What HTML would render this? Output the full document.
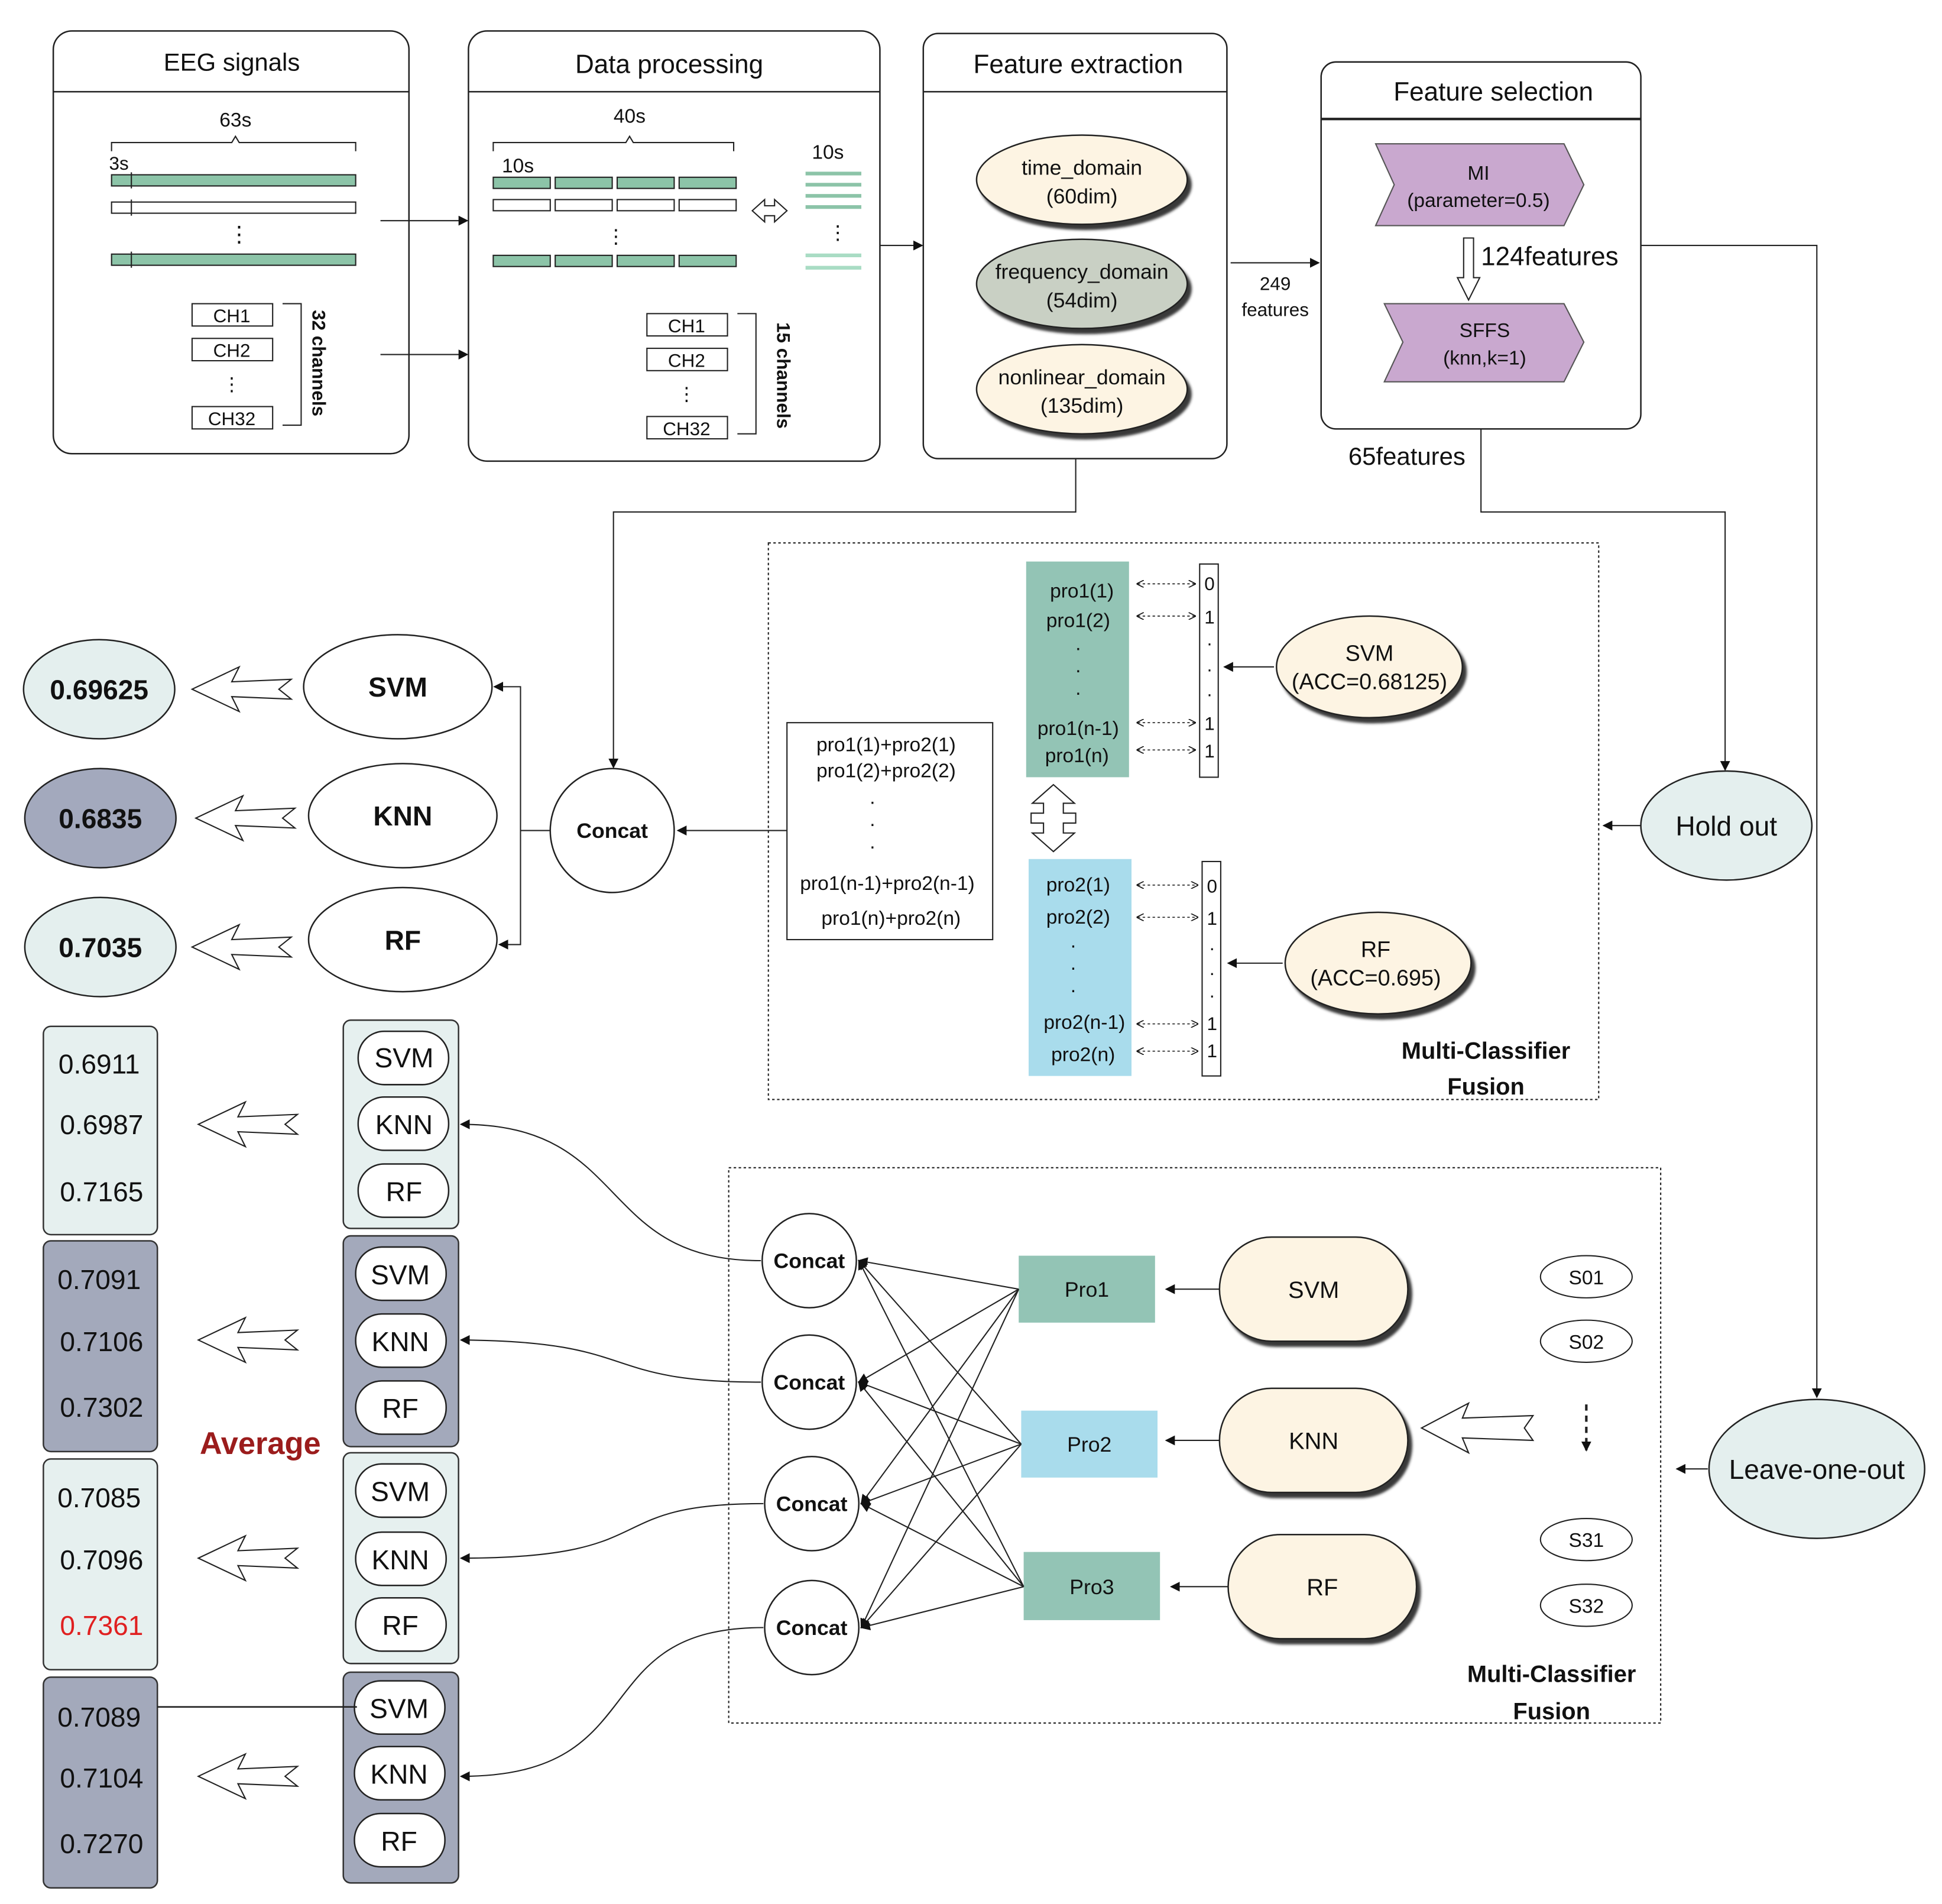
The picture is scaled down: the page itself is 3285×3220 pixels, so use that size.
<!DOCTYPE html>
<html><head><meta charset="utf-8"><style>
html,body{margin:0;padding:0;background:#fff;}
svg{display:block;}
text{font-family:"Liberation Sans",Arial,sans-serif;fill:#111;}
</style></head><body>
<svg width="3285" height="3220" viewBox="0 0 1567 1536" preserveAspectRatio="none" xmlns="http://www.w3.org/2000/svg">
<defs>
<marker id="ar" markerWidth="8" markerHeight="8" refX="7" refY="4" orient="auto" markerUnits="userSpaceOnUse"><path d="M0,0 L8,4 L0,8 z" fill="#111"/></marker>
<marker id="ars" markerWidth="6" markerHeight="6" refX="5" refY="3" orient="auto-start-reverse" markerUnits="userSpaceOnUse"><path d="M0,0 L6,3 L0,6" fill="none" stroke="#111" stroke-width="0.8"/></marker>
<filter id="sh" x="-10%" y="-10%" width="130%" height="130%"><feDropShadow dx="3" dy="4" stdDeviation="1" flood-color="#222" flood-opacity="0.9"/></filter>
<g id="hl"><polygon points="0,0 38,-18 32,-6 80,-8 70,0 80,8 32,6 38,18" fill="#fff" stroke="#222" stroke-width="1"/></g>
</defs>
<g stroke="#222" fill="none" stroke-width="1.2">
<rect x="43" y="25" width="287" height="341" rx="15" fill="#fff"/>
<line x1="43" y1="74" x2="330" y2="74"/>
<rect x="378" y="25" width="332" height="347" rx="15" fill="#fff"/>
<line x1="378" y1="74" x2="710" y2="74"/>
<rect x="745" y="27" width="245" height="343" rx="12" fill="#fff"/>
<line x1="745" y1="74" x2="990" y2="74"/>
<rect x="1066" y="50" width="258" height="296" rx="12" fill="#fff"/>
<line x1="1066" y1="96" x2="1324" y2="96" stroke-width="2"/>
</g>
<text x="187" y="57" font-size="20" text-anchor="middle">EEG signals</text>
<text x="540" y="59" font-size="21" text-anchor="middle">Data processing</text>
<text x="870" y="59" font-size="21" text-anchor="middle">Feature extraction</text>
<text x="1205" y="81" font-size="21" text-anchor="middle">Feature selection</text>
<g stroke="#222" stroke-width="1" fill="none">
<path d="M90,122 V115 H187 L190,110 L193,115 H287 V122"/>
<rect x="90" y="141" width="197" height="9" fill="#8cc4a8"/>
<rect x="90" y="163" width="197" height="9" fill="#fff"/>
<rect x="90" y="205" width="197" height="9" fill="#8cc4a8"/>
<line x1="106" y1="139" x2="106" y2="152"/><line x1="106" y1="161" x2="106" y2="174"/><line x1="106" y1="203" x2="106" y2="216"/>
<rect x="155" y="245" width="65" height="18"/><rect x="155" y="273" width="65" height="18"/><rect x="155" y="328" width="65" height="18"/>
<path d="M228,245 H243 V343 H228"/>
<line x1="307" y1="178" x2="377" y2="178" marker-end="url(#ar)"/>
<line x1="307" y1="286" x2="377" y2="286" marker-end="url(#ar)"/>
</g>
<text x="190" y="102" font-size="16" text-anchor="middle">63s</text>
<text x="88" y="137" font-size="15">3s</text>
<text x="193" y="195" font-size="18" text-anchor="middle">⋮</text>
<text x="187" y="260" font-size="15" text-anchor="middle">CH1</text>
<text x="187" y="288" font-size="15" text-anchor="middle">CH2</text>
<text x="187" y="315" font-size="15" text-anchor="middle">⋮</text>
<text x="187" y="343" font-size="15" text-anchor="middle">CH32</text>
<text transform="translate(252,250) rotate(90)" font-size="15" font-weight="bold">32 channels</text>
<g stroke="#222" stroke-width="1" fill="none">
<path d="M398,122 V115 H505 L508,110 L511,115 H592 V122"/>
<rect x="398" y="143" width="46" height="9" fill="#8cc4a8"/><rect x="448" y="143" width="46" height="9" fill="#8cc4a8"/><rect x="498" y="143" width="46" height="9" fill="#8cc4a8"/><rect x="548" y="143" width="46" height="9" fill="#8cc4a8"/>
<rect x="398" y="161" width="46" height="9"/><rect x="448" y="161" width="46" height="9"/><rect x="498" y="161" width="46" height="9"/><rect x="548" y="161" width="46" height="9"/>
<rect x="398" y="206" width="46" height="9" fill="#8cc4a8"/><rect x="448" y="206" width="46" height="9" fill="#8cc4a8"/><rect x="498" y="206" width="46" height="9" fill="#8cc4a8"/><rect x="548" y="206" width="46" height="9" fill="#8cc4a8"/>
<polygon points="607,170 617,161 617,166 625,166 625,161 635,170 625,179 625,174 617,174 617,179" fill="#fff"/>
<rect x="522" y="253" width="65" height="18"/><rect x="522" y="281" width="65" height="18"/><rect x="522" y="336" width="65" height="18"/>
<path d="M595,253 H610 V350 H595"/>
<line x1="710" y1="198" x2="744" y2="198" marker-end="url(#ar)"/>
</g>
<g stroke="#8cc4a8" stroke-width="3"><line x1="650" y1="140" x2="695" y2="140"/><line x1="650" y1="149" x2="695" y2="149"/><line x1="650" y1="158" x2="695" y2="158"/><line x1="650" y1="167" x2="695" y2="167"/></g>
<g stroke="#a9dcc4" stroke-width="3"><line x1="650" y1="206" x2="695" y2="206"/><line x1="650" y1="216" x2="695" y2="216"/></g>
<text x="508" y="99" font-size="16" text-anchor="middle">40s</text>
<text x="405" y="139" font-size="16">10s</text>
<text x="497" y="196" font-size="16" text-anchor="middle">⋮</text>
<text x="668" y="128" font-size="16" text-anchor="middle">10s</text>
<text x="676" y="193" font-size="16" text-anchor="middle">⋮</text>
<text x="554" y="268" font-size="15" text-anchor="middle">CH1</text>
<text x="554" y="296" font-size="15" text-anchor="middle">CH2</text>
<text x="554" y="323" font-size="15" text-anchor="middle">⋮</text>
<text x="554" y="351" font-size="15" text-anchor="middle">CH32</text>
<text transform="translate(627,260) rotate(90)" font-size="15" font-weight="bold">15 channels</text>
<g stroke="#222" stroke-width="1.2" filter="url(#sh)">
<ellipse cx="873" cy="145" rx="85" ry="36" fill="#fdf4e3"/>
<ellipse cx="873" cy="229" rx="85" ry="36" fill="#c9d0c4"/>
<ellipse cx="873" cy="314" rx="85" ry="36" fill="#fdf4e3"/>
</g>
<g font-size="17" text-anchor="middle">
<text x="873" y="141">time_domain</text><text x="873" y="164">(60dim)</text>
<text x="873" y="225">frequency_domain</text><text x="873" y="248">(54dim)</text>
<text x="873" y="310">nonlinear_domain</text><text x="873" y="333">(135dim)</text>
</g>
<line x1="993" y1="212" x2="1064" y2="212" stroke="#222" marker-end="url(#ar)"/>
<text x="1029" y="234" font-size="15" text-anchor="middle">249</text>
<text x="1029" y="255" font-size="15" text-anchor="middle">features</text>
<polygon points="1110,116 1262,116 1278,149 1262,182 1110,182 1125,149" fill="#c9a8cf" stroke="#555"/>
<polygon points="1117,245 1262,245 1278,276 1262,308 1117,308 1132,276" fill="#c9a8cf" stroke="#555"/>
<text x="1193" y="145" font-size="16" text-anchor="middle">MI</text>
<text x="1193" y="167" font-size="16" text-anchor="middle">(parameter=0.5)</text>
<text x="1198" y="272" font-size="16" text-anchor="middle">SFFS</text>
<text x="1198" y="294" font-size="16" text-anchor="middle">(knn,k=1)</text>
<polygon points="1181,192 1189,192 1189,224 1194,224 1185,242 1176,224 1181,224" fill="#fff" stroke="#222"/>
<text x="1195" y="214" font-size="21">124features</text>
<text x="1088" y="375" font-size="20">65features</text>
<g stroke="#222" stroke-width="1" fill="none">
<polyline points="1324,198 1466,198 1466,1127" marker-end="url(#ar)"/>
<polyline points="1195,346 1195,413 1392,413 1392,621" marker-end="url(#ar)"/>
<polyline points="868,370 868,413 495,413 495,619" marker-end="url(#ar)"/>
</g>
<g stroke="#222" stroke-width="1.2">
<ellipse cx="80" cy="556" rx="61" ry="40" fill="#e4efee"/>
<ellipse cx="81" cy="660" rx="61" ry="40" fill="#a3a9bd"/>
<ellipse cx="81" cy="764" rx="61" ry="40" fill="#e4efee"/>
<ellipse cx="321" cy="554" rx="76" ry="42" fill="#fff"/>
<ellipse cx="325" cy="658" rx="76" ry="42" fill="#fff"/>
<ellipse cx="325" cy="758" rx="76" ry="42" fill="#fff"/>
<circle cx="494" cy="670" r="50" fill="#fff"/>
</g>
<g font-size="22" font-weight="bold" text-anchor="middle">
<text x="80" y="564">0.69625</text><text x="81" y="668">0.6835</text><text x="81" y="772">0.7035</text>
<text x="321" y="562">SVM</text><text x="325" y="666">KNN</text><text x="325" y="766">RF</text>
</g>
<text x="494" y="676" font-size="17" font-weight="bold" text-anchor="middle">Concat</text>
<use href="#hl" x="155" y="556"/><use href="#hl" x="158" y="660"/><use href="#hl" x="155" y="764"/>
<g stroke="#222" stroke-width="1" fill="none">
<line x1="444" y1="670" x2="420" y2="670"/>
<polyline points="420,670 420,554 399,554" marker-end="url(#ar)"/>
<polyline points="420,670 420,762 403,762" marker-end="url(#ar)"/>
<line x1="635" y1="670" x2="547" y2="670" marker-end="url(#ar)"/>
<rect x="635" y="583" width="166" height="175" fill="#fff"/>
<rect x="620" y="438" width="670" height="449" stroke-dasharray="2,2"/>
</g>
<g font-size="16" text-anchor="middle">
<text x="715" y="606">pro1(1)+pro2(1)</text><text x="715" y="627">pro1(2)+pro2(2)</text>
<text x="704" y="652">·</text><text x="704" y="670">·</text><text x="704" y="688">·</text>
<text x="716" y="718">pro1(n-1)+pro2(n-1)</text><text x="719" y="746">pro1(n)+pro2(n)</text>
</g>
<rect x="828" y="453" width="83" height="174" fill="#93c4b5"/>
<rect x="830" y="693" width="83" height="175" fill="#a9dcec"/>
<g font-size="16" text-anchor="middle">
<text x="873" y="482">pro1(1)</text><text x="870" y="506">pro1(2)</text>
<text x="870" y="528">·</text><text x="870" y="546">·</text><text x="870" y="564">·</text>
<text x="870" y="593">pro1(n-1)</text><text x="869" y="615">pro1(n)</text>
<text x="870" y="719">pro2(1)</text><text x="870" y="745">pro2(2)</text>
<text x="866" y="768">·</text><text x="866" y="786">·</text><text x="866" y="804">·</text>
<text x="875" y="830">pro2(n-1)</text><text x="874" y="856">pro2(n)</text>
</g>
<g stroke="#222" stroke-width="1" fill="none">
<rect x="968" y="455" width="15" height="172"/>
<rect x="970" y="695" width="15" height="173"/>
</g>
<g font-size="15" text-anchor="middle">
<text x="976" y="476">0</text><text x="976" y="503">1</text><text x="976" y="524">·</text><text x="976" y="545">·</text><text x="976" y="565">·</text><text x="976" y="589">1</text><text x="976" y="611">1</text>
<text x="978" y="720">0</text><text x="978" y="746">1</text><text x="978" y="770">·</text><text x="978" y="790">·</text><text x="978" y="808">·</text><text x="978" y="831">1</text><text x="978" y="853">1</text>
</g>
<g stroke="#222" stroke-width="0.8" stroke-dasharray="2,2" fill="none" marker-start="url(#ars)" marker-end="url(#ars)">
<line x1="918" y1="471" x2="964" y2="471"/><line x1="918" y1="497" x2="964" y2="497"/><line x1="918" y1="583" x2="964" y2="583"/><line x1="918" y1="605" x2="964" y2="605"/>
<line x1="918" y1="714" x2="966" y2="714"/><line x1="918" y1="740" x2="966" y2="740"/><line x1="918" y1="826" x2="966" y2="826"/><line x1="918" y1="848" x2="966" y2="848"/>
</g>
<g stroke="#222" stroke-width="1.2" filter="url(#sh)">
<ellipse cx="1105" cy="538" rx="75" ry="41" fill="#fdf4e3"/>
<ellipse cx="1112" cy="777" rx="75" ry="41" fill="#fdf4e3"/>
</g>
<g font-size="18" text-anchor="middle">
<text x="1105" y="533">SVM</text><text x="1105" y="556">(ACC=0.68125)</text>
<text x="1110" y="772">RF</text><text x="1110" y="795">(ACC=0.695)</text>
</g>
<g stroke="#222" stroke-width="1" fill="none">
<line x1="1028" y1="538" x2="988" y2="538" marker-end="url(#ar)"/>
<line x1="1035" y1="777" x2="991" y2="777" marker-end="url(#ar)"/>
<polygon points="850,633 867,648 858,648 858,656 868,656 868,664 858,664 858,672 867,672 850,687 833,672 842,672 842,664 832,664 832,656 842,656 842,648 833,648" fill="#fff"/>
<line x1="1325" y1="666" x2="1294" y2="666" marker-end="url(#ar)"/>
</g>
<text x="1199" y="854" font-size="19" font-weight="bold" text-anchor="middle">Multi-Classifier</text>
<text x="1199" y="883" font-size="19" font-weight="bold" text-anchor="middle">Fusion</text>
<ellipse cx="1393" cy="666" rx="69" ry="44" fill="#e4efee" stroke="#222" stroke-width="1.2"/>
<text x="1393" y="674" font-size="22" text-anchor="middle">Hold out</text>
<g stroke="#333" stroke-width="1.2">
<rect x="35" y="828" width="92" height="168" rx="6" fill="#e6f0ef"/>
<rect x="35" y="1001" width="92" height="170" rx="6" fill="#a3a9bb"/>
<rect x="35" y="1177" width="92" height="170" rx="6" fill="#e6f0ef"/>
<rect x="35" y="1353" width="92" height="170" rx="6" fill="#a3a9bb"/>
<rect x="277" y="823" width="93" height="168" rx="6" fill="#e6f0ef"/>
<rect x="277" y="997" width="93" height="170" rx="6" fill="#a3a9bb"/>
<rect x="277" y="1172" width="93" height="170" rx="6" fill="#e6f0ef"/>
<rect x="277" y="1349" width="93" height="170" rx="6" fill="#a3a9bb"/>
</g>
<g stroke="#222" stroke-width="1.2" fill="#fff">
<rect x="289" y="832" width="73" height="43" rx="21"/><rect x="289" y="885" width="73" height="43" rx="21"/><rect x="289" y="939" width="73" height="43" rx="21"/>
<rect x="287" y="1006" width="73" height="43" rx="21"/><rect x="287" y="1060" width="73" height="43" rx="21"/><rect x="287" y="1114" width="73" height="43" rx="21"/>
<rect x="287" y="1181" width="73" height="43" rx="21"/><rect x="287" y="1236" width="73" height="43" rx="21"/><rect x="287" y="1289" width="73" height="43" rx="21"/>
<rect x="286" y="1356" width="73" height="43" rx="21"/><rect x="286" y="1409" width="73" height="43" rx="21"/><rect x="286" y="1463" width="73" height="43" rx="21"/>
</g>
<g font-size="22" text-anchor="middle">
<text x="326" y="861">SVM</text><text x="326" y="915">KNN</text><text x="326" y="969">RF</text>
<text x="323" y="1036">SVM</text><text x="323" y="1090">KNN</text><text x="323" y="1144">RF</text>
<text x="323" y="1211">SVM</text><text x="323" y="1266">KNN</text><text x="323" y="1319">RF</text>
<text x="322" y="1386">SVM</text><text x="322" y="1439">KNN</text><text x="322" y="1493">RF</text>
</g>
<g font-size="22" text-anchor="middle">
<text x="80" y="866">0.6911</text><text x="82" y="915">0.6987</text><text x="82" y="969">0.7165</text>
<text x="80" y="1040">0.7091</text><text x="82" y="1090">0.7106</text><text x="82" y="1143">0.7302</text>
<text x="80" y="1216">0.7085</text><text x="82" y="1266">0.7096</text><text x="82" y="1319" style="fill:#e02020">0.7361</text>
<text x="80" y="1393">0.7089</text><text x="82" y="1442">0.7104</text><text x="82" y="1495">0.7270</text>
</g>
<use href="#hl" x="160" y="907"/><use href="#hl" x="160" y="1081"/><use href="#hl" x="160" y="1257"/><use href="#hl" x="160" y="1433"/>
<text x="210" y="1173" font-size="25" font-weight="bold" text-anchor="middle" style="fill:#9b1c1c">Average</text>
<line x1="127" y1="1377" x2="288" y2="1377" stroke="#222" stroke-width="1.2"/>
<rect x="588" y="942" width="752" height="448" fill="none" stroke="#222" stroke-dasharray="2,2"/>
<g stroke="#222" stroke-width="1" fill="none">
<path d="M614,1017 C480,1017 510,907 372,907" marker-end="url(#ar)"/>
<path d="M614,1115 C480,1115 520,1082 372,1081" marker-end="url(#ar)"/>
<path d="M616,1213 C480,1213 540,1257 372,1257" marker-end="url(#ar)"/>
<path d="M616,1313 C470,1313 530,1433 372,1433" marker-end="url(#ar)"/>
</g>
<g stroke="#222" stroke-width="1.2" fill="#fff">
<circle cx="653" cy="1017" r="38"/><circle cx="653" cy="1115" r="38"/><circle cx="655" cy="1213" r="38"/><circle cx="655" cy="1313" r="38"/>
</g>
<g font-size="17" font-weight="bold" text-anchor="middle">
<text x="653" y="1023">Concat</text><text x="653" y="1121">Concat</text><text x="655" y="1219">Concat</text><text x="655" y="1319">Concat</text>
</g>
<rect x="822" y="1013" width="110" height="54" fill="#93c4b5"/>
<rect x="824" y="1138" width="110" height="54" fill="#a9dcec"/>
<rect x="826" y="1252" width="110" height="55" fill="#93c4b5"/>
<g font-size="17" text-anchor="middle"><text x="877" y="1046">Pro1</text><text x="879" y="1171">Pro2</text><text x="881" y="1286">Pro3</text></g>
<g stroke="#222" stroke-width="1" fill="none" marker-end="url(#ar)">
<line x1="822" y1="1040" x2="693" y2="1017"/><line x1="822" y1="1040" x2="693" y2="1115"/><line x1="822" y1="1040" x2="695" y2="1213"/><line x1="822" y1="1040" x2="695" y2="1313"/>
<line x1="824" y1="1165" x2="693" y2="1017"/><line x1="824" y1="1165" x2="693" y2="1115"/><line x1="824" y1="1165" x2="695" y2="1213"/><line x1="824" y1="1165" x2="695" y2="1313"/>
<line x1="826" y1="1280" x2="693" y2="1017"/><line x1="826" y1="1280" x2="693" y2="1115"/><line x1="826" y1="1280" x2="695" y2="1213"/><line x1="826" y1="1280" x2="695" y2="1313"/>
<line x1="984" y1="1040" x2="941" y2="1040"/><line x1="984" y1="1162" x2="941" y2="1162"/><line x1="991" y1="1280" x2="945" y2="1280"/>
<line x1="1378" y1="1185" x2="1353" y2="1185"/>
</g>
<g stroke="#222" stroke-width="1.2" fill="#fdf4e3" filter="url(#sh)">
<rect x="984" y="998" width="152" height="84" rx="42"/>
<rect x="984" y="1120" width="152" height="84" rx="42"/>
<rect x="991" y="1238" width="152" height="84" rx="42"/>
</g>
<g font-size="19" text-anchor="middle"><text x="1060" y="1047">SVM</text><text x="1060" y="1169">KNN</text><text x="1067" y="1287">RF</text></g>
<g stroke="#222" stroke-width="1" fill="#fff">
<ellipse cx="1280" cy="1030" rx="37" ry="17"/><ellipse cx="1280" cy="1082" rx="37" ry="17"/>
<ellipse cx="1280" cy="1242" rx="37" ry="17"/><ellipse cx="1280" cy="1295" rx="37" ry="17"/>
<polygon points="1147,1152 1185,1132 1180,1144 1237,1142 1230,1152 1237,1162 1180,1160 1185,1172"/>
</g>
<line x1="1280" y1="1133" x2="1280" y2="1170" stroke="#222" stroke-width="2" stroke-dasharray="5,4" marker-end="url(#ar)"/>
<g font-size="16" text-anchor="middle"><text x="1280" y="1036">S01</text><text x="1280" y="1088">S02</text><text x="1280" y="1248">S31</text><text x="1280" y="1301">S32</text></g>
<ellipse cx="1466" cy="1185" rx="87" ry="56" fill="#e4efee" stroke="#222" stroke-width="1.2"/>
<text x="1466" y="1193" font-size="22" text-anchor="middle">Leave-one-out</text>
<text x="1252" y="1357" font-size="19" font-weight="bold" text-anchor="middle">Multi-Classifier</text>
<text x="1252" y="1387" font-size="19" font-weight="bold" text-anchor="middle">Fusion</text>
</svg>
</body></html>
